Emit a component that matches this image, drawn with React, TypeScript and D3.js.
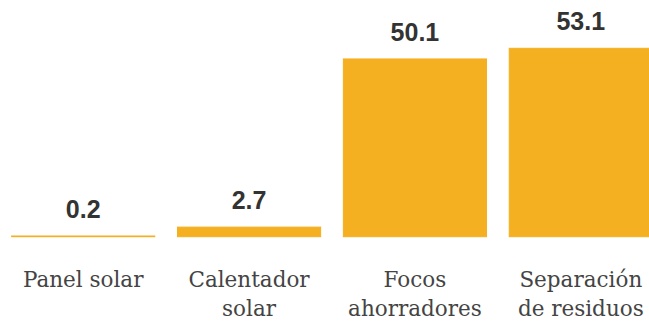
import React from "react";
import * as d3 from "d3";

const categories: string[][] = [
  ["Panel solar"],
  ["Calentador", "solar"],
  ["Focos", "ahorradores"],
  ["Separación", "de residuos"],
];
const values: number[] = [0.2, 2.7, 50.1, 53.1];
const valueLabels: string[] = ["0.2", "2.7", "50.1", "53.1"];

const W = 649;
const H = 322;
const BAR = "#F4B021";

export default function App() {
  const keys = categories.map((c) => c.join(" "));
  const x = d3
    .scaleBand<string>()
    .domain(keys)
    .range([0, 664])
    .paddingInner(0.137)
    .paddingOuter(0.07);
  const y = d3.scaleLinear().domain([0, 53.1]).range([236.7, 48.3]);

  return (
    <svg
      width={W}
      height={H}
      style={{ position: "absolute", left: 0, top: 0, background: "#fff" }}
    >
      {values.map((v, i) => {
        const k = keys[i];
        const x0 = x(k)!;
        const bw = x.bandwidth();
        const top = y(v);
        const cx = x0 + bw / 2;
        return (
          <g key={k}>
            <rect
              x={x0}
              y={top}
              width={bw}
              height={y(0) - top}
              fill={BAR}
              stroke={BAR}
              strokeWidth={1}
            />
            <text
              x={cx}
              y={top - 18}
              textAnchor="middle"
              fontFamily="'Liberation Sans', Arial, sans-serif"
              fontWeight="bold"
              fontSize={25}
              fill="#333"
            >
              {valueLabels[i]}
            </text>
            {categories[i].map((line, j) => (
              <text
                key={j}
                x={cx}
                y={287 + j * 29}
                textAnchor="middle"
                fontFamily="'DejaVu Serif', serif"
                fontSize={21.5}
                fill="#444"
              >
                {line}
              </text>
            ))}
          </g>
        );
      })}
    </svg>
  );
}
